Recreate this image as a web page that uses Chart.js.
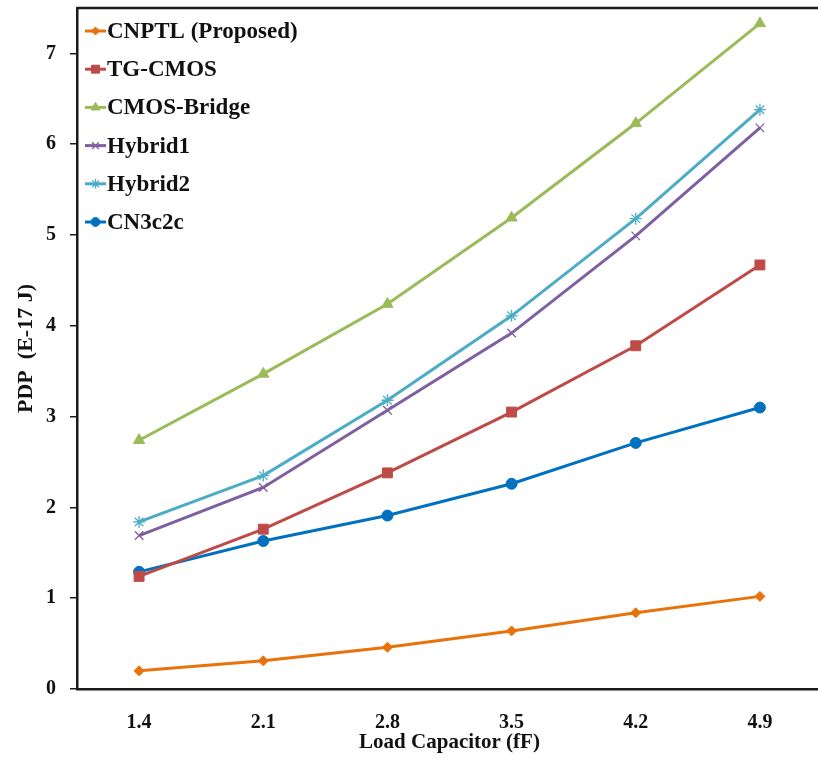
<!DOCTYPE html>
<html><head><meta charset="utf-8">
<script src="https://cdn.jsdelivr.net/npm/chart.js@4"></script>
<style>html,body{margin:0;padding:0;overflow:hidden;background:#fff}</style>
</head><body>
<div style="width:830px;height:765px"><canvas id="c" width="830" height="765"></canvas></div>
<script>
const categories = ['1.4','2.1','2.8','3.5','4.2','4.9'];
const seriesNames = ['CNPTL (Proposed)','TG-CMOS','CMOS-Bridge','Hybrid1','Hybrid2','CN3c2c'];
const cnptl      = [0.20, 0.31, 0.46, 0.64, 0.84, 1.02];
const tgCmos     = [1.24, 1.76, 2.38, 3.05, 3.78, 4.67];
const cmosBridge = [2.74, 3.47, 4.24, 5.19, 6.23, 7.33];
const hybrid1    = [1.69, 2.22, 3.07, 3.92, 4.99, 6.18];
const hybrid2    = [1.84, 2.35, 3.18, 4.11, 5.18, 6.38];
const cn3c2c     = [1.29, 1.63, 1.91, 2.26, 2.71, 3.10];
const yTicks = [0,1,2,3,4,5,6,7];

const colors = ['#E8720C','#BE4B48','#9BBB59','#7E5FA0','#4BACC6','#0070C0'];
const styles = [
  {pointStyle:'rectRot', radius:5, bw:1},
  {pointStyle:'rect', radius:7, bw:1},
  {pointStyle:'triangle', radius:6.5, bw:1},
  {pointStyle:'crossRot', radius:6, bw:1.3},
  {pointStyle:'star', radius:6, bw:1.3},
  {pointStyle:'circle', radius:5.5, bw:1}
];
const values = [cnptl, tgCmos, cmosBridge, hybrid1, hybrid2, cn3c2c];
const SERIF = '"Liberation Serif","Times New Roman",serif';

const datasets = values.map((v,i)=>({
  label: seriesNames[i],
  data: v,
  borderColor: colors[i],
  backgroundColor: colors[i],
  borderWidth: 3,
  tension: 0,
  pointStyle: styles[i].pointStyle,
  pointRadius: styles[i].radius,
  pointBorderWidth: styles[i].bw,
  pointBackgroundColor: colors[i],
  pointBorderColor: colors[i]
}));

const legendPlugin = {
  id: 'customLegend',
  afterDraw(chart){
    const ctx = chart.ctx;
    const ca = chart.chartArea;
    ctx.save();
    ctx.strokeStyle = '#1a1a1a';
    ctx.lineWidth = 2.5;
    ctx.beginPath();
    ctx.moveTo(ca.left, ca.top);
    ctx.lineTo(ca.right, ca.top);
    ctx.stroke();
    chart.data.datasets.forEach((ds,i)=>{
      const y = 31 + i*38.2;
      const x0 = 85, x1 = 106;
      ctx.strokeStyle = ds.borderColor;
      ctx.lineWidth = 3;
      ctx.beginPath(); ctx.moveTo(x0,y); ctx.lineTo(x1,y); ctx.stroke();
      ctx.fillStyle = ds.borderColor;
      ctx.strokeStyle = ds.borderColor;
      ctx.lineWidth = ds.pointBorderWidth;
      Chart.helpers.drawPoint(ctx, {pointStyle: ds.pointStyle, rotation:0, radius: ds.pointRadius*0.8, borderWidth: ds.pointBorderWidth}, (x0+x1)/2, y);
      ctx.fillStyle = '#111';
      ctx.font = 'bold 23px ' + SERIF;
      ctx.textBaseline = 'middle';
      ctx.textAlign = 'left';
      ctx.fillText(ds.label, 107, y+1);
    });
    ctx.restore();
  }
};

new Chart(document.getElementById('c'), {
  type: 'line',
  data: { labels: categories, datasets },
  plugins: [legendPlugin],
  options: {
    responsive: false,
    animation: false,
    devicePixelRatio: 1,
    layout: { padding: { top: 2, right: 0, left: 0, bottom: 0 } },
    plugins: { legend: { display: false }, tooltip: { enabled: false } },
    scales: {
      x: {
        offset: true,
        grid: { drawOnChartArea: false, drawTicks: false },
        border: { color: '#1a1a1a', width: 2.5 },
        ticks: { color: '#111', font: { family: SERIF, weight: 'bold', size: 20 }, padding: 22 },
        title: { display: true, text: 'Load Capacitor (fF)', color: '#111',
                 font: { family: SERIF, weight: 'bold', size: 21 }, padding: { top: 0, bottom: 10 } },
        afterFit(s){ s.height = 76; s.paddingLeft = 0; s.paddingRight = 0; }
      },
      y: {
        min: 0, max: 7.5,
        afterBuildTicks(s){ s.ticks = yTicks.map(v=>({value:v})); },
        grid: { drawOnChartArea: false, drawTicks: true, tickLength: 7, color: '#1a1a1a', lineWidth: 1.5 },
        border: { color: '#1a1a1a', width: 2.5 },
        ticks: { color: '#111', font: { family: SERIF, weight: 'bold', size: 20 }, padding: 14 },
        title: { display: true, text: 'PDP  (E-17 J)', color: '#111',
                 font: { family: SERIF, weight: 'bold', size: 22 }, padding: { top: 13, bottom: 0 } },
        afterFit(s){ s.width = 77; s.paddingTop = 0; s.paddingBottom = 0; }
      }
    }
  }
});
</script>
</body></html>
